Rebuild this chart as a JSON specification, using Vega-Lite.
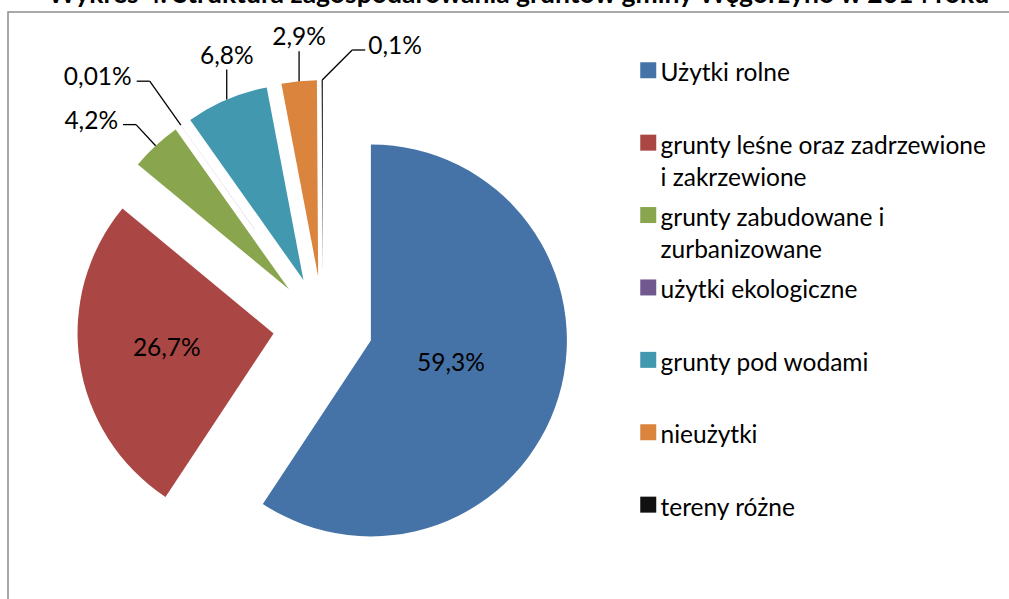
{
  "$schema": "https://vega.github.io/schema/vega-lite/v6.json",
  "width": 1001,
  "height": 587,
  "autosize": {"type": "none"},
  "padding": {"left": 8, "top": 12, "right": 0, "bottom": 0},
  "background": "white",
  "title": {
    "text": "Wykres 4. Struktura zagospodarowania gruntów gminy Węgorzyno w 2014 roku",
    "font": "Lato", "fontSize": 26.5, "fontWeight": "bold", "color": "black",
    "anchor": "middle", "frame": "group", "offset": -9, "dx": 10, "dy": 9, "baseline": "alphabetic"
  },
  "config": {
    "view": {"stroke": null},
    "text": {"font": "Lato", "fontSize": 24.5, "color": "black"},
    "style": {"guide-label": {"lineHeight": 32, "dy": -8}}
  },
  "data": {
    "values": [
      {"order": 1, "category": "Użytki rolne", "value": 59.3},
      {"order": 2, "category": "grunty leśne oraz zadrzewione i zakrzewione", "value": 26.7},
      {"order": 3, "category": "grunty zabudowane i zurbanizowane", "value": 4.2},
      {"order": 4, "category": "użytki ekologiczne", "value": 0.01},
      {"order": 5, "category": "grunty pod wodami", "value": 6.8},
      {"order": 6, "category": "nieużytki", "value": 2.9},
      {"order": 7, "category": "tereny różne", "value": 0.1}
    ]
  },
  "transform": [
    {"window": [{"op": "sum", "field": "value", "as": "cumEnd"}], "sort": [{"field": "order"}], "frame": [null, 0]},
    {"joinaggregate": [{"op": "sum", "field": "value", "as": "total"}]},
    {"calculate": "(datum.cumEnd - datum.value) / datum.total", "as": "f0"},
    {"calculate": "datum.cumEnd / datum.total", "as": "f1"},
    {"calculate": "PI * (datum.f0 + datum.f1)", "as": "mid"},
    {"calculate": "2 * PI * datum.value / datum.total", "as": "span"},
    {"calculate": "sin(datum.mid)", "as": "ex"},
    {"calculate": "cos(datum.mid)", "as": "ey"},
    {"calculate": "replace(toString(datum.value), '.', ',') + '%'", "as": "pct"},
    {"calculate": "datum.value > 20 ? 'in' : datum.ex < -0.5 ? 'left' : datum.ex < -0.05 ? 'top' : 'right'", "as": "pos"},
    {"calculate": "4.92 * datum.ex", "as": "Ex"},
    {"calculate": "4.92 * datum.ey", "as": "Ey"},
    {"calculate": "datum.pos == 'left' ? (6 - 0.12 * datum.value) * datum.ex : datum.pos == 'right' ? datum.Ex + 0.6 : datum.Ex", "as": "bx"},
    {"calculate": "datum.pos == 'left' ? (6 - 0.12 * datum.value) * datum.ey : datum.Ey + 0.6", "as": "by"},
    {"calculate": "datum.pos == 'left' ? datum.bx - 0.26 : datum.pos == 'right' ? datum.bx + 0.26 : datum.bx", "as": "cx"},
    {"calculate": "2 + 0.5 * (392 * sin(datum.span / 2) / (1.5 * datum.span)) / 50", "as": "ir"},
    {"calculate": "datum.ir * datum.ex", "as": "ix"},
    {"calculate": "datum.ir * datum.ey", "as": "iy"}
  ],
  "encoding": {
    "x": {"field": "ex", "type": "quantitative", "scale": {"domain": [-6.3, 13.72], "nice": false, "zero": false}, "axis": null},
    "y": {"field": "ey", "type": "quantitative", "scale": {"domain": [-5.46, 6.28], "nice": false, "zero": false}, "axis": null}
  },
  "layer": [
    {
      "transform": [{"filter": "datum.order == 1"}],
      "mark": {"type": "rect", "fill": null, "stroke": "#8c8c8c", "strokeWidth": 1.5},
      "encoding": {"x": {"datum": -6.3, "type": "quantitative"}, "x2": {"datum": 30}, "y": {"datum": 6.28, "type": "quantitative"}, "y2": {"datum": -30}}
    },
    {
      "mark": {"type": "arc", "outerRadius": 196, "stroke": null},
      "encoding": {
        "theta": {"field": "f0", "type": "quantitative", "scale": {"domain": [0, 1]}},
        "theta2": {"field": "f1"},
        "color": {
          "field": "category", "type": "nominal", "sort": null,
          "scale": {
            "domain": ["Użytki rolne", "grunty leśne oraz zadrzewione i zakrzewione", "grunty zabudowane i zurbanizowane", "użytki ekologiczne", "grunty pod wodami", "nieużytki", "tereny różne"],
            "range": ["#4572A7", "#AA4643", "#89A54E", "#71588F", "#4198AF", "#DB843D", "#111111"]
          },
          "legend": {
            "orient": "none", "legendX": 628, "legendY": 46,
            "title": null,
            "symbolType": "square", "symbolSize": 256, "symbolStrokeWidth": 0,
            "labelFont": "Lato", "labelFontSize": 24.5, "labelColor": "black", "labelLimit": 0,
            "labelOffset": 0, "labelBaseline": "top", "gridAlign": "all", "rowPadding": 12.4,
            "labelExpr": "datum.label == 'grunty leśne oraz zadrzewione i zakrzewione' ? ['\u2005grunty leśne oraz zadrzewione', 'i zakrzewione'] : datum.label == 'grunty zabudowane i zurbanizowane' ? ['grunty zabudowane i', 'zurbanizowane'] : datum.label == 'grunty pod wodami' ? '\u2005grunty pod wodami' : datum.label"
          }
        }
      }
    },
    {
      "transform": [{"filter": "datum.pos != 'in'"}],
      "mark": {"type": "rule", "color": "black", "strokeWidth": 1.3},
      "encoding": {"x": {"field": "Ex", "type": "quantitative"}, "y": {"field": "Ey", "type": "quantitative"}, "x2": {"field": "bx"}, "y2": {"field": "by"}}
    },
    {
      "transform": [{"filter": "datum.pos == 'left' || datum.pos == 'right'"}],
      "mark": {"type": "rule", "color": "black", "strokeWidth": 1.3},
      "encoding": {"x": {"field": "bx", "type": "quantitative"}, "y": {"field": "by", "type": "quantitative"}, "x2": {"field": "cx"}, "y2": {"field": "by"}}
    },
    {
      "transform": [{"filter": "datum.pos == 'in'"}],
      "mark": {"type": "text", "align": "center", "baseline": "middle"},
      "encoding": {"x": {"field": "ix", "type": "quantitative"}, "y": {"field": "iy", "type": "quantitative"}, "text": {"field": "pct"}}
    },
    {
      "transform": [{"filter": "datum.pos == 'left'"}],
      "mark": {"type": "text", "align": "right", "baseline": "middle", "dx": -5, "dy": -3},
      "encoding": {"x": {"field": "cx", "type": "quantitative"}, "y": {"field": "by", "type": "quantitative"}, "text": {"field": "pct"}}
    },
    {
      "transform": [{"filter": "datum.pos == 'right'"}],
      "mark": {"type": "text", "align": "left", "baseline": "middle", "dx": 3, "dy": -3},
      "encoding": {"x": {"field": "cx", "type": "quantitative"}, "y": {"field": "by", "type": "quantitative"}, "text": {"field": "pct"}}
    },
    {
      "transform": [{"filter": "datum.pos == 'top'"}],
      "mark": {"type": "text", "align": "center", "baseline": "alphabetic", "dy": -6},
      "encoding": {"x": {"field": "bx", "type": "quantitative"}, "y": {"field": "by", "type": "quantitative"}, "text": {"field": "pct"}}
    }
  ]
}
